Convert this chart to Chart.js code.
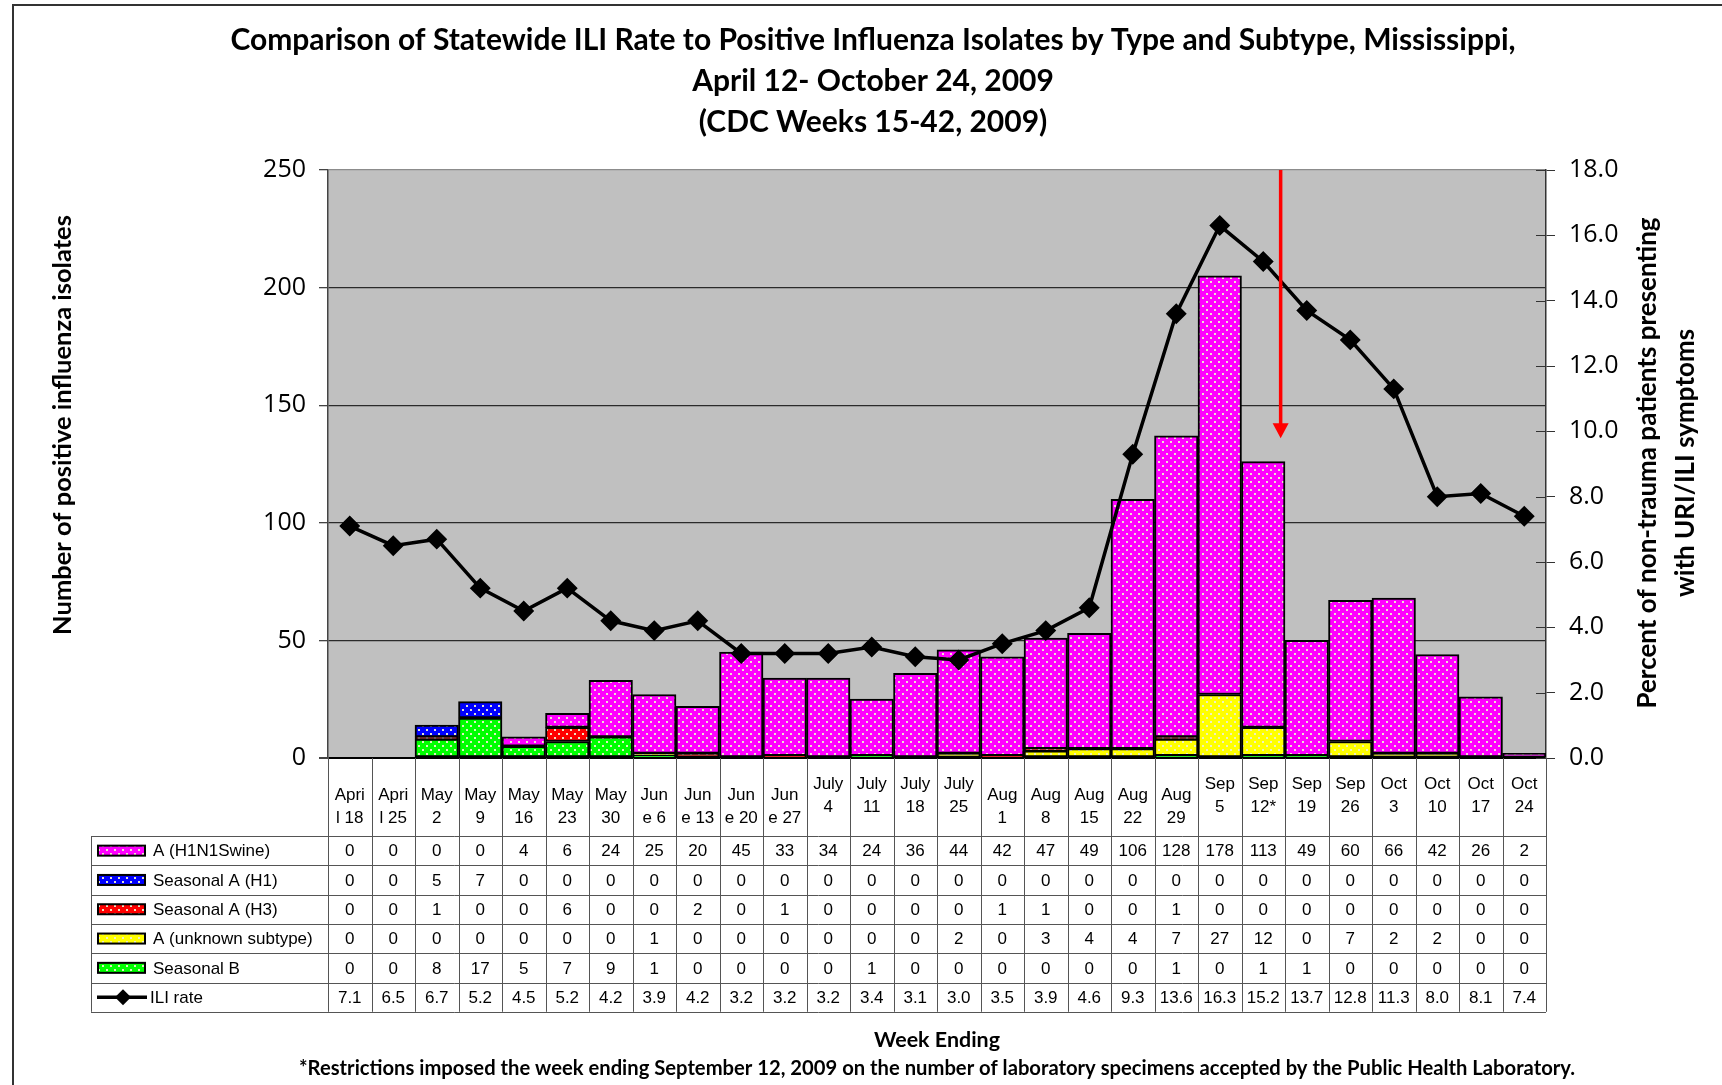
<!DOCTYPE html>
<html>
<head>
<meta charset="utf-8">
<script src="https://cdn.jsdelivr.net/npm/chart.js@4.4.0/dist/chart.umd.min.js"></script>
<style>
  html, body { margin: 0; padding: 0; background: #fff; }
</style>
</head>
<body>
<canvas id="fluChart" width="1722" height="1085"></canvas>
<script>
// Week ending labels, as wrapped in the original table header
const weekLabels = [
    ['Apri', 'l 18'], ['Apri', 'l 25'], ['May', '2'], ['May', '9'], ['May', '16'], ['May', '23'],
    ['May', '30'], ['Jun', 'e 6'], ['Jun', 'e 13'], ['Jun', 'e 20'], ['Jun', 'e 27'],
    ['July', '4', ''], ['July', '11', ''], ['July', '18', ''], ['July', '25', ''],
    ['Aug', '1'], ['Aug', '8'], ['Aug', '15'], ['Aug', '22'], ['Aug', '29'],
    ['Sep', '5', ''], ['Sep', '12*', ''], ['Sep', '19', ''], ['Sep', '26', ''],
    ['Oct', '3', ''], ['Oct', '10', ''], ['Oct', '17', ''], ['Oct', '24', '']
];

const h1n1Swine      = [0, 0, 0, 0, 4, 6, 24, 25, 20, 45, 33, 34, 24, 36, 44, 42, 47, 49, 106, 128, 178, 113, 49, 60, 66, 42, 26, 2];
const seasonalH1     = [0, 0, 5, 7, 0, 0, 0, 0, 0, 0, 0, 0, 0, 0, 0, 0, 0, 0, 0, 0, 0, 0, 0, 0, 0, 0, 0, 0];
const seasonalH3     = [0, 0, 1, 0, 0, 6, 0, 0, 2, 0, 1, 0, 0, 0, 0, 1, 1, 0, 0, 1, 0, 0, 0, 0, 0, 0, 0, 0];
const unknownSubtype = [0, 0, 0, 0, 0, 0, 0, 1, 0, 0, 0, 0, 0, 0, 2, 0, 3, 4, 4, 7, 27, 12, 0, 7, 2, 2, 0, 0];
const seasonalB      = [0, 0, 8, 17, 5, 7, 9, 1, 0, 0, 0, 0, 1, 0, 0, 0, 0, 0, 0, 1, 0, 1, 1, 0, 0, 0, 0, 0];
const iliRate        = [7.1, 6.5, 6.7, 5.2, 4.5, 5.2, 4.2, 3.9, 4.2, 3.2, 3.2, 3.2, 3.4, 3.1, 3.0, 3.5, 3.9, 4.6, 9.3, 13.6, 16.3, 15.2, 13.7, 12.8, 11.3, 8.0, 8.1, 7.4];

const isolateAxis = { min: 0, max: 250, step: 50 };
const iliAxis = { min: 0, max: 18, step: 2 };

// Red arrow marking the week ending Sep 12 (category index, isolate counts)
const arrowMark = { at: 21.4, from: 250, to: 136 };

const titleLines = [
    'Comparison of Statewide ILI Rate to Positive Influenza Isolates by Type and Subtype, Mississippi,',
    'April 12- October 24, 2009',
    '(CDC Weeks 15-42, 2009)'
];
const leftTitle = 'Number of positive influenza isolates';
const rightTitle = ['Percent of non-trauma patients presenting', 'with URI/ILI symptoms'];
const xTitle = 'Week Ending';
const footnote = '*Restrictions imposed the week ending September 12, 2009 on the number of laboratory specimens accepted by the Public Health Laboratory.';

// dotted fill like the Excel pattern
function dotted(color) {
    const c = document.createElement('canvas');
    c.width = 8;
    c.height = 8;
    const g = c.getContext('2d');
    g.fillStyle = color;
    g.fillRect(0, 0, 8, 8);
    g.fillStyle = 'rgba(238,238,205,0.95)';
    g.fillRect(2, 1, 2, 2);
    g.fillRect(6, 5, 2, 2);
    return g.createPattern(c, 'repeat');
}

const fills = {
    swine: dotted('#FF00FF'),
    h1: dotted('#0000FF'),
    h3: dotted('#FF0000'),
    unknown: dotted('#FFFF00'),
    b: dotted('#00FF00')
};

function barSet(label, data, fill) {
    return {
        type: 'bar',
        label: label,
        data: data,
        yAxisID: 'y',
        backgroundColor: fill,
        borderColor: '#000',
        borderWidth: 2,
        borderSkipped: false,
        categoryPercentage: 1,
        barPercentage: 1,
        order: 1
    };
}

// stacked bottom -> top
const datasets = [
    barSet('Seasonal B', seasonalB, fills.b),
    barSet('A (unknown subtype)', unknownSubtype, fills.unknown),
    barSet('Seasonal A (H3)', seasonalH3, fills.h3),
    barSet('Seasonal A (H1)', seasonalH1, fills.h1),
    barSet('A (H1N1Swine)', h1n1Swine, fills.swine),
    {
        type: 'line',
        label: 'ILI rate',
        data: iliRate,
        yAxisID: 'y2',
        borderColor: '#000',
        borderWidth: 3.5,
        pointStyle: 'rectRot',
        pointRadius: 8,
        pointBackgroundColor: '#000',
        pointBorderColor: '#000',
        tension: 0,
        order: 0
    }
];

// rows of the data table under the chart, in the original order
const tableRows = [
    { label: 'A (H1N1Swine)', data: h1n1Swine, fill: fills.swine },
    { label: 'Seasonal A (H1)', data: seasonalH1, fill: fills.h1 },
    { label: 'Seasonal A (H3)', data: seasonalH3, fill: fills.h3 },
    { label: 'A (unknown subtype)', data: unknownSubtype, fill: fills.unknown },
    { label: 'Seasonal B', data: seasonalB, fill: fills.b },
    { label: 'ILI rate', data: iliRate, line: true }
];

function seg(ctx, x1, y1, x2, y2) {
    ctx.beginPath();
    ctx.moveTo(x1, y1);
    ctx.lineTo(x2, y2);
    ctx.stroke();
}

const backgroundPlugin = {
    id: 'plotBackground',
    beforeDraw(chart) {
        const { ctx, chartArea: a } = chart;
        ctx.save();
        ctx.fillStyle = '#fff';
        ctx.fillRect(0, 0, chart.width, chart.height);
        ctx.fillStyle = '#C0C0C0';
        ctx.fillRect(a.left, a.top, a.right - a.left, a.bottom - a.top);
        // outer frame of the original figure
        ctx.strokeStyle = '#333';
        ctx.lineWidth = 2;
        ctx.strokeRect(13, 5, chart.width + 10, chart.height + 10);
        ctx.restore();
    }
};

const arrowPlugin = {
    id: 'restrictionArrow',
    afterDatasetsDraw(chart) {
        const { ctx, scales: { x, y } } = chart;
        const px = x.getPixelForValue(arrowMark.at);
        const top = y.getPixelForValue(arrowMark.from);
        const tip = y.getPixelForValue(arrowMark.to);
        ctx.save();
        ctx.strokeStyle = '#FF0000';
        ctx.fillStyle = '#FF0000';
        ctx.lineWidth = 3.5;
        seg(ctx, px, top, px, tip - 12);
        ctx.beginPath();
        ctx.moveTo(px - 8, tip - 15);
        ctx.lineTo(px + 8, tip - 15);
        ctx.lineTo(px, tip);
        ctx.closePath();
        ctx.fill();
        ctx.restore();
    }
};

const tablePlugin = {
    id: 'dataTable',
    afterDraw(chart) {
        const { ctx, chartArea: a, scales: { x, y2 } } = chart;
        const n = weekLabels.length;
        const tableTop = a.bottom + 78;
        const rowH = 29.3;
        const tableBottom = tableTop + rowH * tableRows.length;
        const tableLeft = 91;

        ctx.save();

        // inner tick marks of the right axis
        ctx.strokeStyle = '#333';
        ctx.lineWidth = 1;
        y2.ticks.forEach(t => {
            const py = Math.round(y2.getPixelForValue(t.value)) + 0.5;
            seg(ctx, a.right - 10, py, a.right, py);
        });

        // grid of the table
        ctx.strokeStyle = '#555';
        for (let i = 0; i <= n; i++) {
            const px = Math.round(x.getPixelForValue(i - 0.5)) + 0.5;
            seg(ctx, px, a.bottom, px, tableBottom);
        }
        seg(ctx, tableLeft + 0.5, tableTop, tableLeft + 0.5, tableBottom);
        for (let r = 0; r <= tableRows.length; r++) {
            const py = Math.round(tableTop + r * rowH) + 0.5;
            seg(ctx, tableLeft, py, a.right, py);
        }

        // header: week labels
        ctx.fillStyle = '#000';
        ctx.font = '17px "Liberation Sans", Arial, sans-serif';
        ctx.textAlign = 'center';
        ctx.textBaseline = 'middle';
        const headCenter = a.bottom + 49;
        const lineH = 23;
        weekLabels.forEach((lines, i) => {
            const px = x.getPixelForValue(i);
            const y0 = headCenter - (lines.length - 1) * lineH / 2;
            lines.forEach((s, k) => ctx.fillText(s, px, y0 + k * lineH));
        });

        // rows
        tableRows.forEach((row, r) => {
            const cy = tableTop + rowH * (r + 0.5);
            // legend key
            if (row.line) {
                ctx.strokeStyle = '#000';
                ctx.lineWidth = 3.5;
                seg(ctx, 97, cy, 147, cy);
                ctx.fillStyle = '#000';
                ctx.beginPath();
                ctx.moveTo(123, cy - 8);
                ctx.lineTo(131, cy);
                ctx.lineTo(123, cy + 8);
                ctx.lineTo(115, cy);
                ctx.closePath();
                ctx.fill();
            } else {
                ctx.fillStyle = row.fill;
                ctx.fillRect(98, cy - 5, 47, 10);
                ctx.strokeStyle = '#000';
                ctx.lineWidth = 2;
                ctx.strokeRect(98, cy - 5, 47, 10);
            }
            ctx.fillStyle = '#000';
            ctx.textAlign = 'left';
            ctx.fillText(row.label, row.line ? 150 : 153, cy + 1);
            ctx.textAlign = 'center';
            row.data.forEach((v, i) => {
                const txt = row.line ? v.toFixed(1) : String(v);
                ctx.fillText(txt, x.getPixelForValue(i), cy + 1);
            });
        });

        // axis titles and notes
        ctx.fillStyle = '#000';
        ctx.font = 'bold 25.5px Lato, sans-serif';
        ctx.save();
        ctx.translate(63, 425);
        ctx.rotate(-Math.PI / 2);
        ctx.fillText(leftTitle, 0, 0, 424);
        ctx.restore();

        ctx.save();
        ctx.translate(1667, 463);
        ctx.rotate(-Math.PI / 2);
        ctx.font = 'bold 26px Lato, sans-serif';
        ctx.fillText(rightTitle[0], 0, -19, 492);
        ctx.fillText(rightTitle[1], 0, 19);
        ctx.restore();

        const mid = (a.left + a.right) / 2;
        ctx.font = 'bold 21.5px Lato, sans-serif';
        ctx.fillText(xTitle, mid, 1040, 126);
        ctx.font = 'bold 20.5px Lato, sans-serif';
        ctx.fillText(footnote, mid, 1068, 1276);

        ctx.restore();
    }
};

const tickFont = { family: '"Open Sans", sans-serif', size: 25 };

new Chart(document.getElementById('fluChart'), {
    type: 'bar',
    data: {
        labels: weekLabels.map(l => l.join(' ').trim()),
        datasets: datasets
    },
    options: {
        responsive: false,
        animation: false,
        events: [],
        layout: { padding: { left: 24, right: 0, top: 0, bottom: 0 } },
        plugins: {
            legend: { display: false },
            tooltip: { enabled: false },
            title: {
                display: true,
                text: titleLines,
                color: '#000',
                font: { family: 'Lato, sans-serif', size: 30, weight: 'bold', lineHeight: 1.367 },
                padding: { top: 19.5, bottom: 27.5 }
            }
        },
        scales: {
            x: {
                stacked: true,
                offset: true,
                grid: { display: false },
                border: { display: false },
                ticks: { display: false },
                afterFit: s => { s.height = 327; }
            },
            y: {
                stacked: true,
                min: isolateAxis.min,
                max: isolateAxis.max,
                ticks: { stepSize: isolateAxis.step, color: '#000', font: tickFont, padding: 13 },
                grid: {
                    color: c => c.tick.value === isolateAxis.max ? '#8c8c8c' : (c.tick.value === 0 ? '#000' : '#2a2a2a'),
                    lineWidth: c => c.tick.value === 0 ? 2 : 1.3,
                    tickColor: '#444',
                    tickLength: 9
                },
                border: { color: '#444', width: 1.5 },
                afterFit: s => { s.width = 304; }
            },
            y2: {
                position: 'right',
                min: iliAxis.min,
                max: iliAxis.max,
                ticks: {
                    stepSize: iliAxis.step,
                    color: '#000',
                    font: tickFont,
                    padding: 14,
                    callback: v => v.toFixed(1)
                },
                grid: { drawOnChartArea: false, color: '#333', tickLength: 9 },
                border: { color: '#333', width: 1.5 },
                afterFit: s => { s.width = 176; }
            }
        }
    },
    plugins: [backgroundPlugin, arrowPlugin, tablePlugin]
});
</script>
</body>
</html>
